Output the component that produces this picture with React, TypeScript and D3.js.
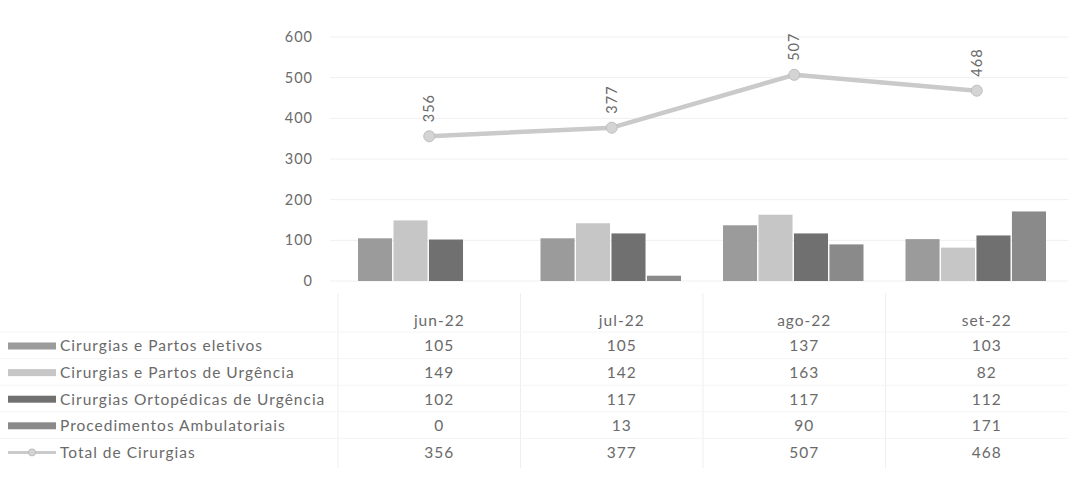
import React from "react";
import * as d3 from "d3";

const months = ["jun-22", "jul-22", "ago-22", "set-22"];
const seriesNames = [
  "Cirurgias e Partos eletivos",
  "Cirurgias e Partos de Urgência",
  "Cirurgias Ortopédicas de Urgência",
  "Procedimentos Ambulatoriais",
];
const eletivos = [105, 105, 137, 103];
const urgencia = [149, 142, 163, 82];
const ortopedicas = [102, 117, 117, 112];
const ambulatoriais = [0, 13, 90, 171];
const total = [356, 377, 507, 468];
const totalName = "Total de Cirurgias";
const yTicks = [0, 100, 200, 300, 400, 500, 600];

const barSeries = [eletivos, urgencia, ortopedicas, ambulatoriais];
const barColors = ["#9b9b9b", "#c6c6c6", "#707070", "#8a8a8a"];
const lineColor = "#cacaca";
const textColor = "#6a6a6a";
const font = "Lato, 'Open Sans', sans-serif";

export default function App() {
  const W = 1072, H = 492;
  const y = d3.scaleLinear().domain([0, 600]).range([281, 37]);
  const x = d3.scaleBand<string>().domain(months).range([338, 1068]);
  const inner = d3
    .scaleBand<number>()
    .domain(d3.range(barSeries.length))
    .range([20, x.bandwidth() - 22])
    .paddingInner(0.04);
  const cx = (m: string) => (x(m) as number) + x.bandwidth() / 2;
  const lx = (m: string) => cx(m) + 10;
  const line = d3
    .line<number>()
    .x((_, i) => cx(months[i]))
    .y((d) => y(d));
  const rowY = (i: number) => 346 + i * 26.6;
  const allRows = [...barSeries, total];
  const allNames = [...seriesNames, totalName];

  return (
    <svg width={W} height={H} style={{ position: "absolute", left: 0, top: 0, background: "#fff" }} fontFamily={font}>
      {/* gridlines */}
      {yTicks.map((t) => (
        <line key={"g" + t} x1={330} x2={1068} y1={y(t)} y2={y(t)} stroke="#f0f0f0" strokeWidth={1} />
      ))}
      {/* table borders */}
      {months.map((m) => (
        <line key={"v" + m} x1={x(m) as number} x2={x(m) as number} y1={293} y2={468} stroke="#efefef" />
      ))}
      {allRows.map((_, i) => (
        <line key={"h" + i} x1={0} x2={1068} y1={rowY(i) - 14} y2={rowY(i) - 14} stroke="#f4f4f4" />
      ))}
      {/* y axis labels */}
      {yTicks.map((t) => (
        <text key={"t" + t} x={313} y={y(t)} dy="0.35em" textAnchor="end" fontSize={14.5} letterSpacing={1} fill={textColor}>
          {t}
        </text>
      ))}
      {/* bars */}
      {months.map((m, mi) =>
        barSeries.map((s, si) => (
          <rect
            key={m + si}
            x={(x(m) as number) + (inner(si) as number)}
            y={y(s[mi])}
            width={inner.bandwidth()}
            height={y(0) - y(s[mi])}
            fill={barColors[si]}
          />
        ))
      )}
      {/* line */}
      <path d={line(total) as string} fill="none" stroke={lineColor} strokeWidth={4.5} strokeLinejoin="round" />
      {total.map((v, i) => (
        <g key={"p" + i}>
          <circle cx={cx(months[i])} cy={y(v)} r={5.5} fill="#d4d4d4" stroke="#bdbdbd" strokeWidth={1} />
          <text
            transform={`translate(${cx(months[i]) + 5},${y(v) - 14}) rotate(-90)`}
            textAnchor="start"
            fontSize={14.5}
            letterSpacing={1}
            fill={textColor}
          >
            {v}
          </text>
        </g>
      ))}
      {/* table header */}
      {months.map((m) => (
        <text key={"m" + m} x={lx(m)} y={321} dy="0.35em" textAnchor="middle" fontSize={15.5} letterSpacing={1} fill={textColor}>
          {m}
        </text>
      ))}
      {/* table rows */}
      {allRows.map((row, ri) => (
        <g key={"r" + ri}>
          {ri < 4 ? (
            <rect x={8} y={rowY(ri) - 3.5} width={48} height={7} fill={barColors[ri]} />
          ) : (
            <g>
              <line x1={8} x2={56} y1={rowY(ri)} y2={rowY(ri)} stroke={lineColor} strokeWidth={3} />
              <circle cx={32} cy={rowY(ri)} r={3.5} fill="#d4d4d4" stroke="#bdbdbd" />
            </g>
          )}
          <text x={60} y={rowY(ri)} dy="0.35em" fontSize={15.5} letterSpacing={1} fill={textColor}>
            {allNames[ri]}
          </text>
          {row.map((v, mi) => (
            <text key={mi} x={lx(months[mi])} y={rowY(ri)} dy="0.35em" textAnchor="middle" fontSize={15.5} letterSpacing={1} fill={textColor}>
              {v}
            </text>
          ))}
        </g>
      ))}
    </svg>
  );
}
